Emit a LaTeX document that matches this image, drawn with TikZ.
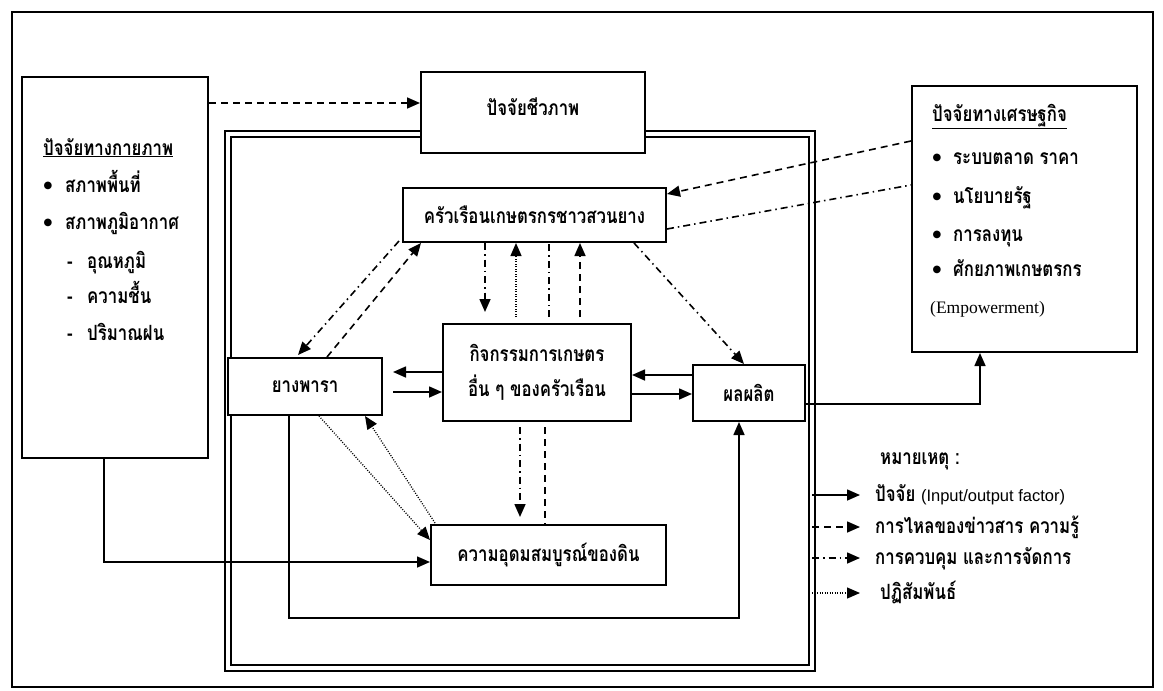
\documentclass[tikz,border=0pt]{standalone}
\usepackage{fontspec}
\setmainfont{Liberation Serif}
\newfontfamily\thaifont[Script=Thai,FakeStretch=0.8]{Loma}
\newfontfamily\symfont{DejaVu Sans}
\newfontfamily\latsans{Liberation Sans}
\usetikzlibrary{arrows.meta,calc}

\newcommand\thfs{\fontsize{21}{35}\selectfont}

\tikzset{
  box/.style={draw, line width=2pt, fill=white, inner sep=0pt, font=\thaifont\bfseries\thfs},
  txt/.style={anchor=base west, inner sep=0pt, font=\thaifont\bfseries\thfs},
  dot/.style={inner sep=0pt, font=\symfont\fontsize{10}{10}\selectfont},
  arr/.style={-{Triangle[length=13pt,width=11pt]}},
  flow/.style={line width=1.6pt},
  info/.style={line width=1.6pt, dash pattern=on 7pt off 5pt},
  ctrl/.style={line width=1.6pt, dash pattern=on 7pt off 4pt on 1.5pt off 4pt},
  inter/.style={line width=1.3pt, dash pattern=on 1pt off 1.5pt},
}

\begin{document}
\begin{tikzpicture}[x=1pt, y=-1pt]
  \useasboundingbox (0,0) rectangle (1163,691);

  % page frame and double frame
  \draw[line width=1.6pt] (12,12) rectangle (1153,687);
  \draw[line width=1.8pt] (225,131) rectangle (815,671);
  \draw[line width=1.8pt] (231,137) rectangle (809,665);

  \node[box, minimum width=186pt, minimum height=381pt] (phys) at (115,267.5) {};
  \node[box, minimum width=225pt, minimum height=266pt] (econ) at (1024.5,219) {};
  \node[box, minimum width=224pt, minimum height=81pt, text depth=12pt] (bio) at (533,112.5) {ปัจจัยชีวภาพ};
  \node[box, minimum width=263pt, minimum height=54pt] (hh) at (534.5,215) {ครัวเรือนเกษตรกรชาวสวนยาง};
  \node[box, minimum width=154pt, minimum height=57pt] (rub) at (305,386.5) {ยางพารา};
  \node[box, minimum width=188pt, minimum height=97pt, align=center] (act) at (537,372.5) {กิจกรรมการเกษตร\\อื่น ๆ ของครัวเรือน};
  \node[box, minimum width=112pt, minimum height=56pt] (prod) at (749,393) {ผลผลิต};
  \node[box, minimum width=235pt, minimum height=60pt] (soil) at (548.5,555) {ความอุดมสมบูรณ์ของดิน};

  % physical factors
  \node[txt] (physT) at (43,155) {\underline{ปัจจัยทางกายภาพ}};
  \node[dot] (pb1) at (48,186) {●};
  \node[txt] (p1) at (65,192) {สภาพพื้นที่};
  \node[dot] (pb2) at (48,223) {●};
  \node[txt] (p2) at (65,229) {สภาพภูมิอากาศ};
  \node[txt] (pd1) at (67,268) {-};
  \node[txt] (p3) at (87,268) {อุณหภูมิ};
  \node[txt] (pd2) at (67,303) {-};
  \node[txt] (p4) at (87,303) {ความชื้น};
  \node[txt] (pd3) at (67,340) {-};
  \node[txt] (p5) at (87,340) {ปริมาณฝน};

  % economic factors
  \node[txt] (econT) at (932,121) {\underline{ปัจจัยทางเศรษฐกิจ}};
  \node[dot] (eb1) at (937,158) {●};
  \node[txt] (e1) at (953,164) {ระบบตลาด ราคา};
  \node[dot] (eb2) at (937,197) {●};
  \node[txt] (e2) at (953,203) {นโยบายรัฐ};
  \node[dot] (eb3) at (937,235) {●};
  \node[txt] (e3) at (953,241) {การลงทุน};
  \node[dot] (eb4) at (937,270) {●};
  \node[txt] (e4) at (953,276) {ศักยภาพเกษตรกร};
  \node[txt, font=\fontsize{17.5}{20}\selectfont] (e5) at (930,313) {(Empowerment)};

  % connectors
  \draw[info, arr] ($(phys.north east)+(0,27)$) coordinate (c1) -- (c1 -| bio.west);
  \draw[info, arr] ($(econ.north west)+(0,56)$) -- ($(hh.north east)+(0,7)$);
  \draw[ctrl] ($(hh.south east)+(0,-14)$) -- ($(econ.north west)+(0,100)$);
  \draw[ctrl, arr] ($(hh.south west)+(-3,-2)$) -- ($(rub.north west)+(71,-2)$);
  \draw[info, arr] ($(rub.north west)+(100,0)$) -- ($(hh.south west)+(19,0)$);
  \draw[ctrl, arr] ($(hh.south east)+(-33,0)$) -- ($(prod.north west)+(52,0)$);

  \draw[ctrl, arr, shorten >=11pt] ($(hh.south west)+(83,0)$) coordinate (v1) -- (v1 |- act.north);
  \draw[inter, arr, shorten <=6pt] ($(act.north west)+(74,0)$) coordinate (v2) -- (v2 |- hh.south);
  \draw[ctrl, shorten <=6pt] ($(act.north west)+(107,0)$) coordinate (v3) -- (v3 |- hh.south);
  \draw[info, arr, shorten <=6pt] ($(act.north west)+(138,0)$) coordinate (v4) -- (v4 |- hh.south);

  \draw[ctrl, arr, shorten <=5pt, shorten >=7pt] ($(act.south west)+(78,0)$) coordinate (v5) -- (v5 |- soil.north);
  \draw[info, shorten <=5pt] ($(act.south west)+(103,0)$) coordinate (v6) -- (v6 |- soil.north);

  \draw[flow, arr, shorten >=10pt] ($(act.north west)+(0,49)$) coordinate (h1) -- (h1 -| rub.east);
  \draw[flow, arr, shorten <=10pt] ($(rub.north east)+(0,35)$) coordinate (h2) -- (h2 -| act.west);
  \draw[flow, arr] ($(prod.north west)+(0,11)$) coordinate (h3) -- (h3 -| act.east);
  \draw[flow, arr] ($(act.north east)+(0,71)$) coordinate (h4) -- (h4 -| prod.west);
  \draw[flow, arr] ($(prod.north east)+(0,40)$) -| ($(econ.south west)+(69,0)$);

  \draw[flow, arr] ($(rub.south west)+(62,0)$) -- ++(0,202) -| ($(prod.south west)+(47,0)$);
  \draw[flow, arr] ($(phys.south west)+(83,0)$) |- ($(soil.north west)+(0,38)$);

  \draw[inter, arr] ($(rub.south west)+(92,0)$) -- ($(soil.north west)+(0,16)$);
  \draw[inter, arr] ($(soil.north west)+(5,-1)$) -- ($(rub.south east)+(-18,0)$);

  % legend
  \node[txt] (note) at (880,464) {หมายเหตุ :};
  \node[txt] (lg1) at (875,501) {ปัจจัย {\latsans\mdseries\fontsize{16.5}{18}\selectfont (Input/output factor)}};
  \node[txt] (lg2) at (875,533) {การไหลของข่าวสาร ความรู้};
  \node[txt] (lg3) at (875,564) {การควบคุม และการจัดการ};
  \node[txt] (lg4) at (880,599) {ปฏิสัมพันธ์};

  \coordinate (s1) at (812,495);
  \coordinate (s2) at (812,527);
  \coordinate (s3) at (812,558);
  \coordinate (s4) at (812,593);
  \draw[flow, arr, shorten >=15pt] (s1) -- (s1 -| lg1.west);
  \draw[info, arr, shorten >=15pt] (s2) -- (s2 -| lg2.west);
  \draw[ctrl, arr, shorten >=15pt] (s3) -- (s3 -| lg3.west);
  \draw[inter, arr, shorten >=20pt] (s4) -- (s4 -| lg4.west);
\end{tikzpicture}
\end{document}
